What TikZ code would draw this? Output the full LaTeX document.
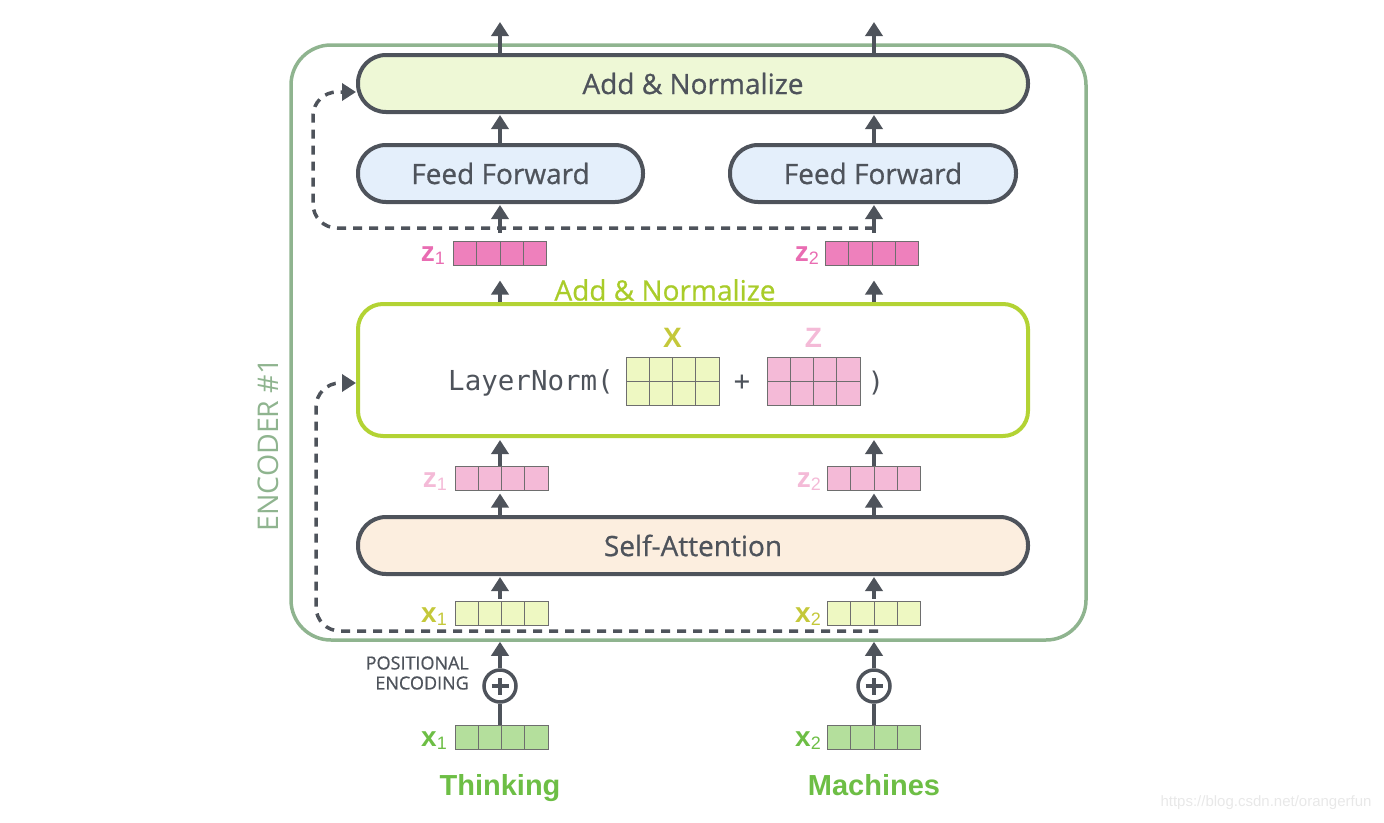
\documentclass[tikz,border=0pt]{standalone}
\usepackage{fontspec}
\setmainfont{Open Sans}
\setmonofont{DejaVu Sans Mono}
\newfontfamily\arialf{Liberation Sans}
\newfontfamily\semib{Open Sans}[FakeBold=0.7]
\usetikzlibrary{arrows.meta,calc}
\definecolor{dk}{HTML}{4E535B}
\definecolor{encc}{HTML}{8FB48F}
\definecolor{anfill}{HTML}{EEF8D6}
\definecolor{fffill}{HTML}{E4EFFB}
\definecolor{safill}{HTML}{FCEEDF}
\definecolor{gbc}{HTML}{B3D334}
\definecolor{gbtext}{HTML}{A9CC2A}
\definecolor{pinkS}{HTML}{EE80BC}
\definecolor{pinkST}{HTML}{E96CB2}
\definecolor{pinkL}{HTML}{F4BAD7}
\definecolor{yelL}{HTML}{EEF8C2}
\definecolor{yelT}{HTML}{C4C83A}
\definecolor{grnV}{HTML}{B4DF9C}
\definecolor{grnT}{HTML}{6DBE45}
\definecolor{cellc}{HTML}{6E6E6E}
\begin{document}
\begin{tikzpicture}[x=1pt,y=-1pt,
  pill/.style={rectangle, rounded corners=28pt, draw=dk, line width=4pt, minimum height=57pt, inner sep=0pt, text=dk, font=\semib\fontsize{28}{32}\selectfont},
  vecbox/.style={draw=cellc, line width=1pt, minimum width=93pt, minimum height=24pt, inner sep=0pt,
    path picture={\foreach \i in {1,2,3}{\draw[cellc,line width=1pt] ($(path picture bounding box.south west)!\i/4!(path picture bounding box.south east)$) -- ++(0,24pt);}}},
  matbox/.style={draw=cellc, line width=1pt, minimum width=93pt, minimum height=48pt, inner sep=0pt,
    path picture={\foreach \i in {1,2,3}{\draw[cellc,line width=1pt] ($(path picture bounding box.south west)!\i/4!(path picture bounding box.south east)$) -- ++(0,48pt);}
      \draw[cellc,line width=1pt] (path picture bounding box.west) -- (path picture bounding box.east);}},
  arr/.style={dk, line width=4pt, -{Triangle[width=17pt,length=14pt]}},
  dsh/.style={dk, line width=3.5pt, dash pattern=on 9pt off 7pt, rounded corners=24pt, -{Triangle[width=17pt,length=14pt]}},
  vlab/.style={anchor=east, inner sep=0pt},
  pe/.style={circle, draw=dk, line width=3.5pt, minimum size=32pt, inner sep=0pt,
    path picture={\draw[dk,line width=3.5pt] (path picture bounding box.center) +(-8.5pt,0) -- +(8.5pt,0) (path picture bounding box.center) +(0,-8.5pt) -- +(0,8.5pt);}},
  word/.style={font=\arialf\bfseries\fontsize{29}{34}\selectfont, text=grnT, anchor=base, inner sep=0pt}
]
\useasboundingbox (0,0) rectangle (1384,822);
\newcommand{\vl}[2]{{\arialf\bfseries\fontsize{28}{30}\selectfont #1}{\arialf\fontsize{18}{18}\selectfont\raisebox{-3pt}{#2}}}

% encoder frame
\node[draw=encc, line width=3.5pt, rounded corners=40pt, minimum width=795pt, minimum height=595pt, inner sep=0pt] (enc) at (688.5,342.5) {};
\node[rotate=90, text=encc, font=\fontsize{28.5}{32}\selectfont] (enclbl) at (268,445) {ENCODER \#1};

% main boxes
\node[pill, fill=anfill, minimum width=670pt] (an) at (693,83.5) {Add \& Normalize};
\node[pill, fill=fffill, minimum width=285pt] (ff1) at (500.5,173.5) {Feed Forward};
\node[pill, fill=fffill, minimum width=286pt] (ff2) at (873,173.5) {Feed Forward};
\node[pill, fill=safill, minimum width=670pt] (sa) at (693,545.5) {Self-Attention};
\node[draw=gbc, line width=4pt, rounded corners=25pt, minimum width=670pt, minimum height=132pt, inner sep=0pt] (gb) at (693,370) {};
\node[text=gbtext, font=\semib\fontsize{28}{32}\selectfont] (gblbl) at (665,290) {Add \& Normalize};

% LayerNorm content
\node[anchor=east, inner sep=0pt, text=dk, font=\ttfamily\fontsize{27.5}{30}\selectfont] (ln) at (614,383) {LayerNorm(};
\node[matbox, fill=yelL] (mx) at (672.5,381) {};
\node[matbox, fill=pinkL] (mz) at (813.5,381) {};
\node[text=dk, font=\ttfamily\fontsize{27}{30}\selectfont] (plus) at (742,383) {+};
\node[text=dk, font=\ttfamily\fontsize{27}{30}\selectfont] (rp) at (876,383) {)};
\node[text=yelT, font=\arialf\bfseries\fontsize{28}{30}\selectfont] (lx) at (672.5,338) {X};
\node[text=pinkL, font=\arialf\bfseries\fontsize{28}{30}\selectfont] (lz) at (813.5,338) {Z};

% vectors
\node[vecbox, fill=pinkS] (z1s) at (500,253) {};
\node[vecbox, fill=pinkS] (z2s) at (872,253) {};
\node[vecbox, fill=pinkL] (z1l) at (501.5,478) {};
\node[vecbox, fill=pinkL] (z2l) at (874,478) {};
\node[vecbox, fill=yelL] (x1l) at (501.5,613) {};
\node[vecbox, fill=yelL] (x2l) at (874,613) {};
\node[vecbox, fill=grnV] (x1g) at (501.5,737) {};
\node[vecbox, fill=grnV] (x2g) at (874,737) {};

\node[vlab, text=pinkST] (lz1s) at (445,256) {\vl{z}{1}};
\node[vlab, text=pinkST] (lz2s) at (819,256) {\vl{z}{2}};
\node[vlab, text=pinkL] (lz1l) at (447,482) {\vl{z}{1}};
\node[vlab, text=pinkL] (lz2l) at (821,482) {\vl{z}{2}};
\node[vlab, text=yelT] (lx1l) at (447,617) {\vl{x}{1}};
\node[vlab, text=yelT] (lx2l) at (821,617) {\vl{x}{2}};
\node[vlab, text=grnT] (lx1g) at (447,741) {\vl{x}{1}};
\node[vlab, text=grnT] (lx2g) at (821,741) {\vl{x}{2}};

% positional encoding
\node[pe] (pe1) at (500,686) {};
\node[pe] (pe2) at (874,686) {};
\node[align=right, anchor=east, inner sep=0pt, text=dk, font=\semib\fontsize{18}{20}\selectfont] (pos) at (469,673) {POSITIONAL\\ENCODING};

\node[word] (w1) at (500,795) {Thinking};
\node[word] (w2) at (874,795) {Machines};
\node[text=black!9, font=\arialf\fontsize{15}{18}\selectfont] (wm) at (1266,803) {https://blog.csdn.net/orangerfun};

% coordinates
\coordinate (o1) at (500,22);
\coordinate (o2) at (874,22);
\coordinate (d1s) at (874,228);
\coordinate (d2s) at (878,631);

% connectors
\draw[arr] (an.north -| o1) -- (o1);
\draw[arr] (an.north -| o2) -- (o2);
\draw[arr, shorten >=1pt] (ff1.north -| o1) -- (an.south -| o1);
\draw[arr, shorten >=1pt] (ff2.north -| o2) -- (an.south -| o2);
\draw[dsh] (d1s) -- (313,228) -- (313,92) -- (an.west |- 0,92);
\draw[arr, shorten <=8pt, shorten >=1pt] (z1s.north -| o1) -- (ff1.south -| o1);
\draw[arr, shorten <=8pt, shorten >=1pt] (z2s.north -| o2) -- (ff2.south -| o2);
\draw[arr, shorten >=15pt] (gb.north -| o1) -- (z1s.south -| o1);
\draw[arr, shorten >=15pt] (gb.north -| o2) -- (z2s.south -| o2);
\draw[arr, shorten >=2pt] (z1l.north -| o1) -- (gb.south -| o1);
\draw[arr, shorten >=2pt] (z2l.north -| o2) -- (gb.south -| o2);
\draw[arr, shorten >=3pt] (sa.north -| o1) -- (z1l.south -| o1);
\draw[arr, shorten >=3pt] (sa.north -| o2) -- (z2l.south -| o2);
\draw[arr, shorten <=2pt, shorten >=1pt] (x1l.north -| o1) -- (sa.south -| o1);
\draw[arr, shorten <=2pt, shorten >=1pt] (x2l.north -| o2) -- (sa.south -| o2);
\draw[dsh] (d2s) -- (316,631) -- (316,383) -- (gb.west |- 0,383);
\draw[arr] (pe1.north) -- (pe1.north |- enc.south);
\draw[arr] (pe2.north) -- (pe2.north |- enc.south);
\draw[dk, line width=3.5pt] (x1g.north -| pe1) -- (pe1.south);
\draw[dk, line width=3.5pt] (x2g.north -| pe2) -- (pe2.south);
\end{tikzpicture}
\end{document}
